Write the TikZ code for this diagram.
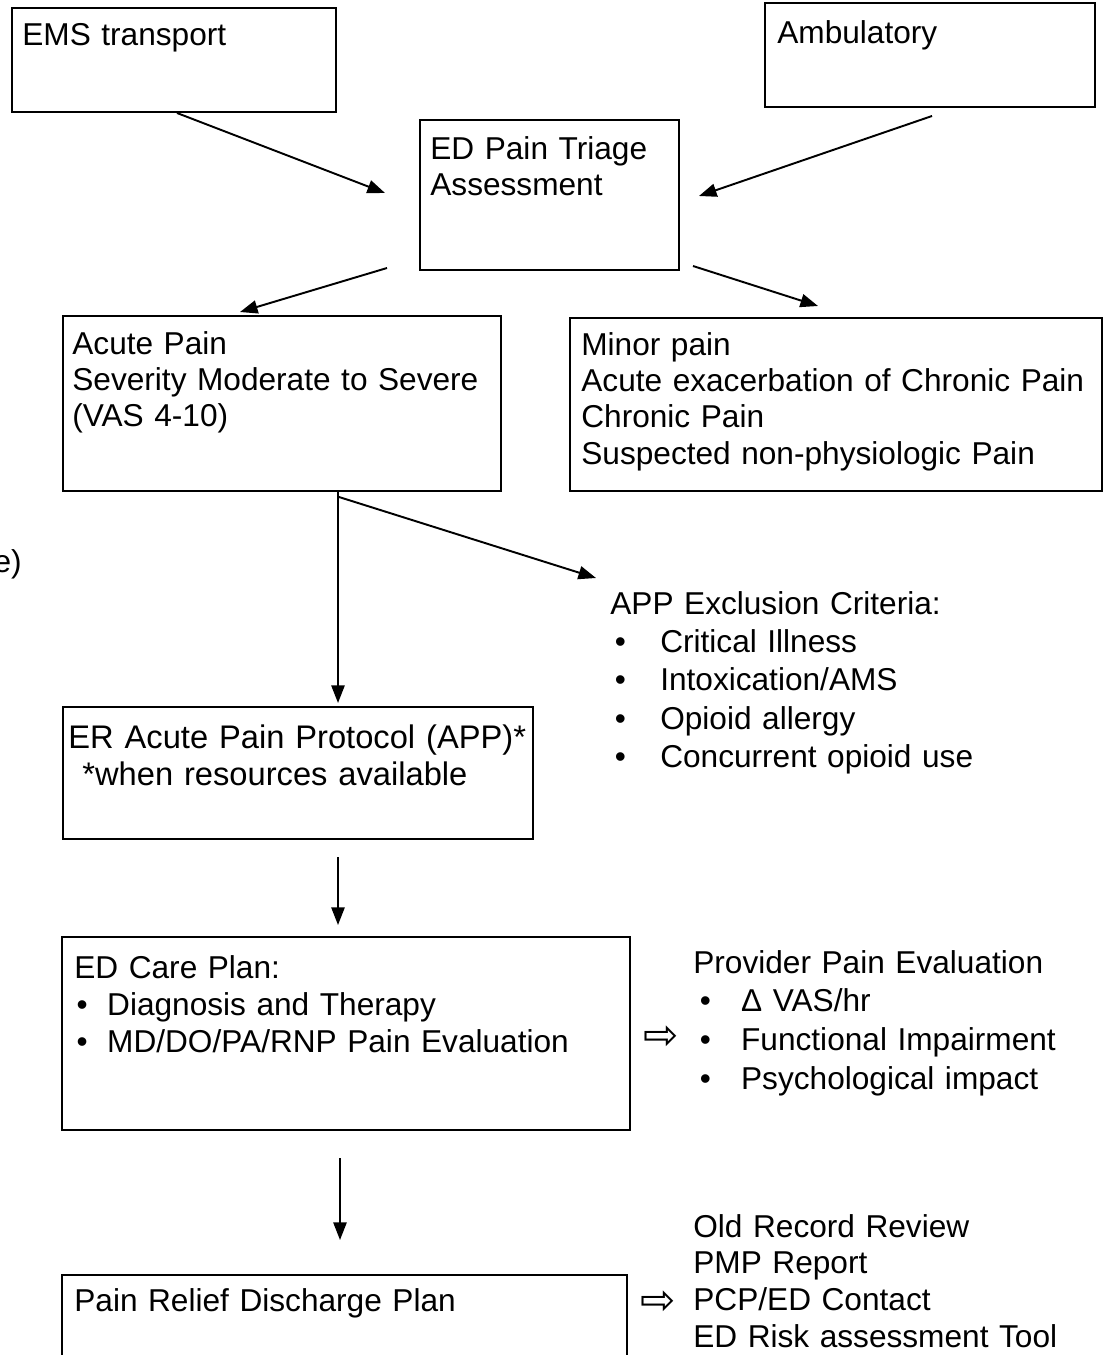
\documentclass[tikz,border=0pt]{standalone}
\usepackage{fontspec}
\setmainfont{Liberation Sans}
\newfontfamily\arrowfont{DejaVu Sans}
\usetikzlibrary{arrows.meta,fit}

% bullet: offset to bullet centre, then gap to item text
\newcommand{\bul}[2]{\hspace*{#1}\makebox[0pt]{\textbullet}\hspace*{#2}}

\begin{document}
\begin{tikzpicture}[x=0.02cm, y=-0.02cm,
  box/.style={draw, line width=1.2pt, inner sep=0pt},
  topbox/.style={box, line width=1.6pt},
  txt/.style={anchor=base west, inner sep=0pt, align=left, text width=560pt,
              font=\fontsize{18}{20.7}\selectfont},
  lst/.style={txt, font=\fontsize{18}{#1}\selectfont},
  arr/.style={-{Triangle[length=10pt,width=7.5pt]}, line width=1.1pt},
  hollow/.style={inner sep=0pt, font=\arrowfont\fontsize{24}{24}\selectfont}]
  \useasboundingbox (0,0) rectangle (1105,1355);
  \clip (0,0) rectangle (1105,1355);

  % Arrival boxes
  \node[topbox, fit={(12,8) (336,112)}] (ems) {};
  \node[txt] (t-ems) at (22,46) {EMS transport};
  \node[topbox, fit={(765,3) (1095,107)}] (amb) {};
  \node[txt] (t-amb) at (777,44) {Ambulatory};

  % Triage
  \node[box, fit={(420,120) (679,270)}] (triage) {};
  \node[txt] (t-triage) at (430,159) {ED Pain Triage\\Assessment};

  % Pain categories
  \node[box, fit={(63,316) (501,491)}] (acute) {};
  \node[txt] (t-acute) at (72,354) {Acute Pain\\Severity Moderate to Severe\\(VAS 4-10)};
  \node[box, fit={(570,318) (1102,491)}] (minor) {};
  \node[txt] (t-minor) at (581,355) {Minor pain\\Acute exacerbation of Chronic Pain\\Chronic Pain\\Suspected non-physiologic Pain};
  \node[txt, anchor=base east, text width=] (t-cut) at (22,572) {e)};

  % Exclusion criteria
  \node[lst=21.9pt] (t-excl) at (610,614) {APP Exclusion Criteria:\\
    \bul{5.7pt}{22.7pt}Critical Illness\\
    \bul{5.7pt}{22.7pt}Intoxication/AMS\\
    \bul{5.7pt}{22.7pt}Opioid allergy\\
    \bul{5.7pt}{22.7pt}Concurrent opioid use};

  % Protocol
  \node[box, fit={(63,707) (533,839)}] (app) {};
  \node[lst=21.6pt, font=\fontsize{18.6}{21.6}\selectfont] (t-app) at (68,748) {ER Acute Pain Protocol (APP)*\\\hspace*{8pt}*when resources available};

  % Care plan
  \node[box, fit={(62,937) (630,1130)}] (care) {};
  \node[lst=21.3pt] (t-care) at (74,978) {ED Care Plan:\\
    \bul{4.5pt}{14.2pt}Diagnosis and Therapy\\
    \bul{4.5pt}{14.2pt}MD/DO/PA/RNP Pain Evaluation};
  \node[hollow] (h-care) at (661,1038) {⇨};
  \node[lst=22.1pt] (t-prov) at (693,973) {Provider Pain Evaluation\\
    \bul{6.8pt}{20.4pt}Δ VAS/hr\\
    \bul{6.8pt}{20.4pt}Functional Impairment\\
    \bul{6.8pt}{20.4pt}Psychological impact};

  % Discharge
  \node[box, fit={(62,1275) (627,1400)}] (relief) {};
  \node[txt] (t-relief) at (74,1311) {Pain Relief Discharge Plan};
  \node[hollow] (h-relief) at (658,1303) {⇨};
  \node[lst=21pt] (t-record) at (693,1237) {Old Record Review\\PMP Report\\PCP/ED Contact\\ED Risk assessment Tool};

  % Arrow ends
  \coordinate (ems-o) at (177,113);
  \coordinate (amb-o) at (932,116);
  \coordinate (tri-il) at (385,193);
  \coordinate (tri-ir) at (699,196);
  \coordinate (tri-ol) at (387,268);
  \coordinate (tri-or) at (693,266);
  \coordinate (acute-i) at (240,312);
  \coordinate (minor-i) at (818,306);
  \coordinate (acute-o) at (338,491);
  \coordinate (acute-d) at (339,497);
  \coordinate (excl-i) at (596,578);
  \coordinate (app-i) at (338,703);
  \coordinate (app-o) at (338,857);
  \coordinate (care-i) at (338,925);
  \coordinate (care-o) at (340,1158);
  \coordinate (relief-i) at (340,1240);

  % Connectors
  \draw[arr] (ems-o) -- (tri-il);
  \draw[arr] (amb-o) -- (tri-ir);
  \draw[arr] (tri-ol) -- (acute-i);
  \draw[arr] (tri-or) -- (minor-i);
  \draw[arr] (acute-o) -- (app-i);
  \draw[arr] (acute-d) -- (excl-i);
  \draw[arr] (app-o) -- (care-i);
  \draw[arr] (care-o) -- (relief-i);
\end{tikzpicture}
\end{document}
